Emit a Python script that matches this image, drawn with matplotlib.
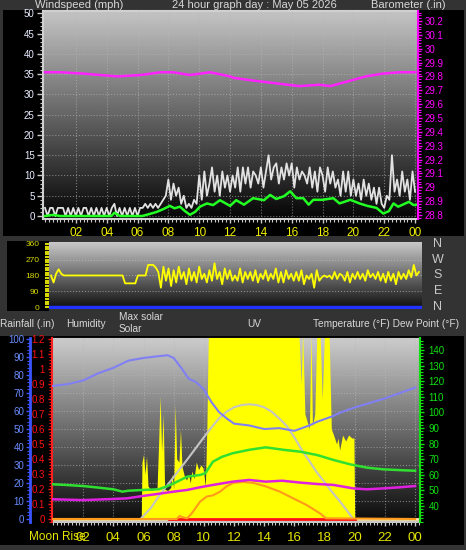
import matplotlib
matplotlib.use("Agg")
import matplotlib.pyplot as plt
import numpy as np
from matplotlib.patches import Rectangle
from matplotlib.ticker import MultipleLocator, FuncFormatter

plt.rcParams["font.family"] = ["Liberation Sans", "DejaVu Sans"]

# ---------------- data (hours since midnight) ----------------
HOUR_TICKS = [2, 4, 6, 8, 10, 12, 14, 16, 18, 20, 22, 24]
HOUR_LABELS = ["02", "04", "06", "08", "10", "12", "14", "16", "18", "20", "22", "00"]

# wind gust, one value every 10 minutes (mph)
GUST_10MIN = [
    2, 0, 2, 2, 0, 2,   2, 2, 0, 2, 0, 2,   0, 2, 0, 2, 2, 0,   2, 0, 2, 0, 2, 0,
    2, 0, 2, 3, 0, 2,   0, 2, 0, 2, 0, 2,   0, 2, 2, 3, 2, 3,   2, 3, 2, 3, 4, 5,
    9, 4, 8, 5, 7, 3,   5, 2, 3, 2, 4, 3,   10, 4, 11, 5, 8, 12,   6, 10, 5, 11, 7, 10,
    6, 10, 7, 12, 6, 12,   8, 12, 7, 11, 10, 8,   12, 7, 11, 15, 9, 12,   13, 8, 12, 9, 13, 10,
    13, 7, 12, 9, 11, 10,   8, 12, 7, 11, 6, 12,   10, 6, 12, 8, 11, 7,   9, 5, 11, 6, 11, 5,
    9, 5, 8, 4, 9, 5,   8, 4, 7, 3, 7, 3,   2, 5, 4, 15, 6, 9,   5, 11, 6, 9, 4, 11,
    6,
]

AVG_HOURS = [0, 0.54, 0.97, 4.3, 4.5, 4.86, 6.3, 6.6, 7.24, 7.67, 8.1, 8.4, 8.75, 9.08, 9.4,
             9.73, 10.05, 10.5, 10.9, 11.35, 12.0, 12.4, 12.9, 13.5, 14.2, 14.6, 15.0, 15.5,
             15.9, 16.3, 16.75, 17.1, 17.4, 18.0, 18.7, 19.1, 19.8, 20.4, 20.9, 21.5, 21.94,
             22.3, 22.6, 22.9, 23.2, 23.6, 23.9, 24.1]
AVG_MPH = [0, 0.3, 0, 0, 0.8, 0, 0, 0.3, 1.0, 1.7, 2.5, 1.9, 2.3, 1.2, 0.3,
           1.0, 2.3, 3.1, 2.7, 3.9, 2.5, 3.9, 2.8, 4.4, 3.9, 5.2, 4.2, 4.9,
           6.1, 4.4, 4.4, 2.8, 4.0, 4.0, 4.4, 3.1, 4.0, 3.1, 2.5, 2.0, 0.6,
           1.2, 3.1, 2.3, 2.8, 3.5, 2.7, 2.8]

BARO_HOURS = [0.0, 1.0, 2.5, 3.6, 4.7, 6.2, 7.5, 8.3, 9.4, 10.7, 12.0, 12.2, 13.5, 15.0,
              16.5, 17.8, 18.5, 19.5, 20.8, 21.9, 23.0, 24.0]
BARO_IN = [29.83, 29.83, 29.82, 29.81, 29.80, 29.81, 29.83, 29.83, 29.81, 29.83, 29.80,
           29.79, 29.77, 29.75, 29.73, 29.74, 29.73, 29.76, 29.80, 29.82, 29.83, 29.83]
BARO_TICKS = [28.8, 28.9, 29.0, 29.1, 29.2, 29.3, 29.4, 29.5, 29.6, 29.7, 29.8, 29.9,
              30.0, 30.1, 30.2]

# wind direction, one value every 10 minutes (degrees)
DIR_10MIN = [
    180, 140, 190, 215, 190, 180,   180, 180, 180, 180, 180, 180,
    180, 180, 180, 180, 180, 180,   180, 180, 180, 180, 180, 180,
    180, 180, 180, 180, 180, 135,   135, 135, 135, 135, 180, 180,
    180, 180, 240, 240, 240, 225,   200, 110, 230, 150, 220, 120,
    210, 140, 230, 160, 200, 130,   220, 150, 200, 140, 230, 160,
    190, 140, 210, 150, 250, 160,   200, 130, 220, 160, 210, 150,
    180, 150, 220, 140, 200, 160,   200, 150, 210, 140, 190, 160,
    210, 150, 190, 160, 220, 140,   200, 140, 210, 160, 190, 150,
    200, 150, 210, 130, 180, 160,   190, 110, 210, 150, 170, 180,
    170, 180, 160, 200, 160, 190,   180, 150, 200, 140, 190, 160,
    200, 160, 190, 150, 210, 170,   190, 160, 200, 150, 190, 140,
    200, 150, 190, 130, 200, 160,   190, 160, 210, 170, 240, 180,
    200,
]
DIR_TICKS = [0, 90, 180, 270, 360]
COMPASS = ["N", "E", "S", "W", "N"]

HUM_HOURS = [0, 1, 2, 3, 4, 5, 6, 7, 7.6, 8, 8.5, 9, 9.5, 10, 10.5, 11, 11.5, 12, 13, 14,
             15, 16, 17, 17.5, 18, 18.5, 19, 20, 21, 22, 23, 24]
HUM_PCT = [74, 75, 77, 81, 84, 88, 89.5, 90.5, 91, 89.5, 84, 78, 76, 72, 65, 59.5, 56, 53,
           52, 50, 50.5, 49, 52, 54, 55.5, 57, 59, 62, 64.5, 67, 70, 73]

TEMP_HOURS = [0, 1, 2, 3, 4, 4.6, 5, 6, 7, 7.5, 8, 8.9, 9.75, 10.1, 10.6, 11.2, 11.9, 13,
              14.1, 15.3, 16.4, 17.5, 18.6, 19.7, 20.8, 21.9, 23, 24]
TEMP_F = [53.9, 53.4, 52.8, 51.8, 50.7, 49.2, 49.8, 50.3, 50.7, 52.4, 54.5, 58.8, 59.9, 61.0,
          68.4, 71.5, 73.8, 76.0, 77.6, 76.0, 74.8, 72.7, 69.5, 66.7, 64.6, 63.5, 63.0, 62.6]

DEW_HOURS = [0, 2, 4, 4.9, 5.95, 6.9, 8.0, 8.9, 9.75, 10.6, 11.9, 13.0, 14.1, 15.2, 16.4,
             17.5, 18.6, 19.9, 20.8, 21.9, 23.0, 24]
DEW_F = [44.3, 43.8, 44.5, 44.9, 46.4, 47.7, 49.2, 50.3, 52.0, 53.5, 55.6, 56.7, 55.6, 56.2,
         55.0, 54.1, 53.5, 51.3, 50.7, 51.3, 52.0, 52.8]

SOLAR_HOURS = [0, 5.85, 5.9, 6.0, 6.1, 6.2, 6.3, 6.5, 6.7, 6.9, 7.0, 7.1, 7.2, 7.3, 7.4, 7.6,
               7.8, 7.9, 8.0, 8.1, 8.2, 8.35, 8.45, 8.55, 8.7, 8.85, 9.0, 9.1, 9.2, 9.35, 9.5,
               9.65, 9.8, 9.95, 10.1, 10.2, 10.3, 16.3, 16.45, 16.55, 16.7, 16.85, 17.0, 17.1,
               17.2, 17.35, 17.5, 17.7, 17.85, 18.0, 18.3, 18.45, 18.6, 18.8, 18.9, 19.0,
               19.2, 19.4, 19.6, 19.8, 19.95, 20.0, 24]
SOLAR_WM2 = [0, 0, 380, 430, 300, 420, 220, 190, 200, 210, 500, 820, 450, 700, 200, 190,
             210, 300, 200, 760, 400, 380, 600, 350, 290, 260, 300, 240, 320, 270, 380,
             330, 360, 340, 220, 600, 1250, 1250, 900, 1250, 700, 650, 600, 1250,
             620, 700, 1250, 1250, 800, 1250, 1250, 600, 560, 500, 540, 460,
             560, 520, 560, 540, 540, 0, 0]

MAXSOL_HOURS = [5.8, 6.5, 7.0, 8.0, 9.0, 10.0, 10.5, 11.0, 11.5, 12.0, 12.5, 13.0, 13.5,
                14.0, 14.5, 15.0, 15.5, 16.0, 16.5, 17.0, 17.5, 18.0, 18.5, 19.0, 19.5, 19.9]
MAXSOL_WM2 = [0, 75, 150, 280, 410, 545, 610, 670, 715, 745, 760, 765, 760,
              745, 715, 670, 620, 545, 460, 385, 310, 245, 180, 120, 55, 0]

UV_HOURS = [0, 8.2, 8.4, 8.6, 8.9, 9.2, 9.75, 10.2, 10.6, 11.1, 11.5, 11.94, 12.6, 13.3,
            14.1, 15.0, 15.9, 16.8, 17.7, 18.1, 24]
UV_INDEX = [0, 0, 0.27, 0.15, 0.06, 0.5, 1.54, 2.0, 2.1, 2.45, 2.9, 3.2, 3.3, 3.2,
            2.9, 2.45, 1.85, 1.25, 0.5, 0.06, 0]

RAIN_HOURS = [7.7, 20.0]
RAIN_IN = [0.0, 0.0]
RAIN_TICKS = [0, 0.1, 0.2, 0.3, 0.4, 0.5, 0.6, 0.7, 0.8, 0.9, 1.0, 1.1, 1.2]

W, H = 466, 550
fig = plt.figure(figsize=(W / 100, H / 100), dpi=100, facecolor="#333333")


def box(x0, y0, x1, y1, color="black"):
    fig.add_artist(Rectangle((x0 / W, 1 - y1 / H), (x1 - x0) / W, (y1 - y0) / H,
                             transform=fig.transFigure, facecolor=color,
                             edgecolor="none", zorder=-1))


def panel(x0, y0, x1, y1):
    return fig.add_axes([x0 / W, 1 - y1 / H, (x1 - x0) / W, (y1 - y0) / H])


def shade(ax, top=0.78, bottom=0.03):
    grad = np.linspace(bottom, top, 256).reshape(-1, 1)
    ax.imshow(grad, cmap="gray", vmin=0, vmax=1, origin="lower", aspect="auto",
              extent=[0, 1, 0, 1], transform=ax.transAxes, zorder=0)


def hide_spines(ax):
    for s in ax.spines.values():
        s.set_visible(False)


fmt_g = FuncFormatter(lambda v, _: f"{round(v, 2):g}")
t10 = np.arange(len(GUST_10MIN)) / 6.0

# background boxes
box(3, 10, 464, 236)
box(7, 241, 49, 311)
box(0, 336, 464, 545)

# ---------------- top panel: wind speed + barometer ----------------
axw = panel(43, 11, 418, 219)
shade(axw, top=0.77, bottom=0.02)
axw.plot(t10, GUST_10MIN, color="#e2e2e2", lw=1.3, zorder=2)
axw.plot(AVG_HOURS, AVG_MPH, color="#22ff22", lw=1.8, zorder=3)
axw.set_xlim(-0.13, 24.19)
axw.set_ylim(-0.74, 50.6)
axw.set_yticks(range(0, 51, 5))
axw.yaxis.set_minor_locator(MultipleLocator(1))
axw.set_xticks(HOUR_TICKS)
axw.set_xticklabels(HOUR_LABELS)
axw.xaxis.set_minor_locator(MultipleLocator(0.25))
axw.grid(True, which="major", color="#b8b8b8", ls=":", lw=0.8, alpha=0.6)
axw.tick_params(axis="y", which="major", colors="#cccccc", labelcolor="#e8ecff",
                labelsize=7, length=4, width=1, pad=2)
axw.tick_params(axis="y", which="minor", colors="#cccccc", length=2, width=0.8)
axw.tick_params(axis="x", which="major", colors="#cccccc", labelcolor="#f0f000",
                labelsize=8.5, length=3, width=1, pad=3)
axw.tick_params(axis="x", which="minor", colors="#cccccc", length=2, width=0.8)
for side in ("left", "bottom", "top"):
    axw.spines[side].set_color("#d0d0d0")
    axw.spines[side].set_linewidth(1.5)
axw.spines["right"].set_visible(False)

axp = axw.twinx()
axp.plot(BARO_HOURS, BARO_IN, color="#ff22ff", lw=1.8)
axp.set_ylim(28.771, 30.272)
axp.set_yticks(BARO_TICKS)
axp.yaxis.set_major_formatter(fmt_g)
axp.yaxis.set_minor_locator(MultipleLocator(0.02))
axp.tick_params(axis="y", which="major", colors="#ff00ff", labelsize=7, length=3,
                width=1, pad=2)
axp.tick_params(axis="y", which="minor", colors="#ff00ff", length=2, width=0.8)
hide_spines(axp)
axp.spines["right"].set_visible(True)
axp.spines["right"].set_color("#ff00ff")
axp.spines["right"].set_linewidth(1.5)
axp.spines["right"].set_linestyle((0, (2, 1)))

fig.text(35 / W, 1 - 5 / H, "Windspeed (mph)", color="#d8d8d8", fontsize=8, va="center")
fig.text(172 / W, 1 - 5 / H, "24 hour graph day : May 05 2026", color="#d8d8d8",
         fontsize=8, va="center")
fig.text(371 / W, 1 - 5 / H, "Barometer (.in)", color="#d8d8d8", fontsize=8, va="center")

# ---------------- middle panel: wind direction ----------------
axd = panel(49, 242, 422, 309)
shade(axd, top=0.80, bottom=0.05)
axd.plot(t10, DIR_10MIN, color="#ffff00", lw=1.3, zorder=3)
axd.axhline(0, color="#2233ff", lw=2.5, zorder=3)
axd.set_xlim(-0.13, 24.2)
axd.set_ylim(-11.4, 371)
axd.set_yticks(DIR_TICKS)
axd.yaxis.set_minor_locator(MultipleLocator(15))
axd.set_xticks([])
axd.grid(True, axis="y", color="#c0c0c0", ls=":", lw=0.8, alpha=0.6)
axd.tick_params(axis="y", which="major", colors="#d8d800", labelsize=6, length=3,
                width=1.5, pad=4)
axd.tick_params(axis="y", which="minor", colors="#d8d800", length=3, width=1.5)
hide_spines(axd)
for deg, letter in zip(DIR_TICKS, COMPASS):
    yy = axd.transData.transform((0, deg))[1]
    fig.text(438 / W, yy / H, letter, color="#c8c8c8", fontsize=9, ha="center",
             va="center")

# headers for the bottom panel
hdr = dict(color="#d8d8d8", fontsize=7.3, va="center")
fig.text(0 / W, 1 - 324 / H, "Rainfall (.in)", **hdr)
fig.text(66 / W, 1 - 324 / H, "Humidity", **hdr)
fig.text(119 / W, 1 - 317 / H, "Max solar", **hdr)
fig.text(119 / W, 1 - 329 / H, "Solar", **hdr)
fig.text(247 / W, 1 - 324 / H, "UV", **hdr)
fig.text(313 / W, 1 - 324 / H, "Temperature (°F) Dew Point (°F)", **hdr)

# ---------------- bottom panel ----------------
axh = panel(52, 338, 420, 522)
shade(axh, top=0.80, bottom=0.04)
axh.set_xlim(-0.066, 24.33)
axh.set_ylim(-1.67, 100.6)
axh.set_yticks(range(0, 101, 10))
axh.yaxis.set_minor_locator(MultipleLocator(2))
axh.set_xticks(HOUR_TICKS)
axh.set_xticklabels(HOUR_LABELS)
axh.xaxis.set_minor_locator(MultipleLocator(0.25))
axh.grid(True, which="major", color="#b8b8b8", ls=":", lw=0.8, alpha=0.6)
axh.spines["left"].set_position(("axes", -22 / 368))
axh.spines["left"].set_color("#3a55ff")
axh.spines["left"].set_linewidth(2)
axh.spines["right"].set_visible(False)
axh.spines["top"].set_color("#c8c8c8")
axh.spines["bottom"].set_color("#c8c8c8")
axh.spines["bottom"].set_linewidth(1.5)
axh.tick_params(axis="y", which="major", colors="#3a55ff", labelcolor="#6a8cff",
                labelsize=7, length=3, width=1, pad=1)
axh.tick_params(axis="y", which="minor", colors="#3a55ff", length=2, width=0.8)
axh.tick_params(axis="x", which="major", colors="#c8c8c8", labelcolor="#e4e400",
                labelsize=9.5, length=3, width=1, pad=4)
axh.tick_params(axis="x", which="minor", colors="#c8c8c8", length=2, width=0.8)

axs = axh.twinx()
axs.fill_between(SOLAR_HOURS, SOLAR_WM2, 0, color="#ffff00", lw=0)
axs.axhline(0, color="#ffe8b0", lw=2)
axs.plot(MAXSOL_HOURS, MAXSOL_WM2, color="#c4c4c4", lw=1.5)
axs.set_ylim(-20, 1207)
axs.set_yticks([])
hide_spines(axs)

axr = axh.twinx()
axr.plot(RAIN_HOURS, RAIN_IN, color="#ff1010", lw=2)
axr.set_ylim(-0.02, 1.2067)
axr.yaxis.tick_left()
axr.set_yticks(RAIN_TICKS)
axr.yaxis.set_major_formatter(fmt_g)
axr.yaxis.set_minor_locator(MultipleLocator(0.02))
axr.tick_params(axis="y", which="major", colors="#ff1010", labelsize=7, length=3,
                width=1, pad=2)
axr.tick_params(axis="y", which="minor", colors="#ff1010", length=2, width=0.8)
hide_spines(axr)
axr.spines["left"].set_visible(True)
axr.spines["left"].set_color("#ff2020")
axr.spines["left"].set_linewidth(1.5)
axr.spines["left"].set_linestyle((0, (2, 1)))

axu = axh.twinx()
axu.plot(UV_HOURS, UV_INDEX, color="#ff9a1a", lw=1.5)
axu.set_ylim(-0.27, 16.1)
axu.set_yticks([])
hide_spines(axu)

axt = axh.twinx()
axt.plot(TEMP_HOURS, TEMP_F, color="#30e030", lw=1.8)
axt.plot(DEW_HOURS, DEW_F, color="#e020e0", lw=1.8)
axt.set_ylim(29.74, 147.7)
axt.set_yticks(range(40, 141, 10))
axt.yaxis.set_minor_locator(MultipleLocator(2))
axt.tick_params(axis="y", which="major", colors="#10e010", labelsize=7, length=3,
                width=1, pad=3)
axt.tick_params(axis="y", which="minor", colors="#10e010", length=2, width=0.8)
hide_spines(axt)
axt.spines["right"].set_visible(True)
axt.spines["right"].set_color("#10e010")
axt.spines["right"].set_linewidth(1.5)
axt.spines["right"].set_linestyle((0, (2, 1)))

axhu = axh.twinx()
axhu.plot(HUM_HOURS, HUM_PCT, color="#8080f4", lw=1.5)
axhu.set_ylim(-1.67, 100.6)
axhu.set_yticks([])
hide_spines(axhu)

fig.text(29 / W, 1 - 537 / H, "Moon Rise", color="#e6e600", fontsize=8.5, va="center")

fig.savefig("out.png", dpi=100, facecolor=fig.get_facecolor())
